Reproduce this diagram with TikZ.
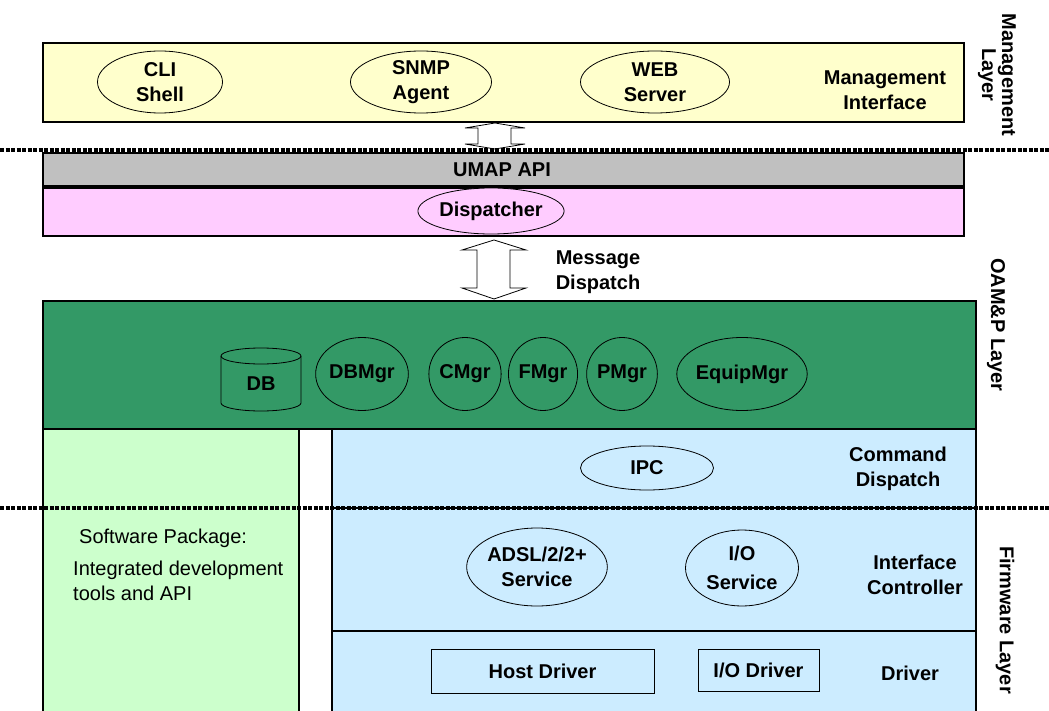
\documentclass[tikz,border=0pt]{standalone}
\usepackage{fontspec}
\setmainfont{Liberation Sans}
\usetikzlibrary{shapes.geometric}
\definecolor{mgmtyellow}{HTML}{FFFFCC}
\definecolor{apigray}{HTML}{C0C0C0}
\definecolor{disppink}{HTML}{FFCCFF}
\definecolor{oamgreen}{HTML}{339966}
\definecolor{swgreen}{HTML}{CCFFCC}
\definecolor{fwblue}{HTML}{CCECFF}
\begin{document}
\begin{tikzpicture}[x=1pt,y=-1pt,
  layerbox/.style={draw=black, line width=1.8pt, rectangle, inner sep=0pt, anchor=north west},
  ell/.style={ellipse, draw=black, line width=0.8pt, inner sep=0pt, align=center, font=\bfseries\fontsize{20}{25}\selectfont},
  lbl/.style={align=center, font=\bfseries\fontsize{20}{25}\selectfont, inner sep=0pt},
  sidelbl/.style={align=center, font=\bfseries\fontsize{20}{20}\selectfont, inner sep=0pt, rotate=-90},
  drvbox/.style={rectangle, draw=black, line width=1pt, inner sep=0pt, font=\bfseries\fontsize{20}{25}\selectfont},
  sep/.style={draw=black, line width=3.2pt, dash pattern=on 4pt off 1.5pt},
  blockarrow/.style={draw=black, fill=white, line width=0.8pt, line join=miter}
]
\clip (0,0) rectangle (1049,711);
\fill[white] (0,0) rectangle (1049,711);

% layer boxes
\node[layerbox, fill=mgmtyellow, minimum width=921pt, minimum height=79pt] (mgmt) at (42,42) {};
\node[layerbox, fill=apigray, minimum width=921pt, minimum height=33pt] (umap) at (42,152) {};
\node[layerbox, fill=disppink, minimum width=921pt, minimum height=48pt] (dispbox) at (42,187) {};
\node[layerbox, fill=oamgreen, minimum width=933pt, minimum height=128pt] (oam) at (42,300) {};
\node[layerbox, fill=swgreen, minimum width=256pt, minimum height=300pt] (sw) at (42,428) {};
\node[layerbox, fill=fwblue, minimum width=644pt, minimum height=79pt] (cmd) at (331,428) {};
\node[layerbox, fill=fwblue, minimum width=644pt, minimum height=123pt] (iface) at (331,507) {};
\node[layerbox, fill=fwblue, minimum width=644pt, minimum height=100pt] (drv) at (331,630) {};

% management layer
\node[ell, minimum width=125pt, minimum height=62pt] (cli) at (160,82) {CLI\\Shell};
\node[ell, minimum width=141pt, minimum height=62pt] (snmp) at (421,82) {SNMP\\Agent};
\node[ell, minimum width=149pt, minimum height=62pt] (web) at (655,82) {WEB\\Server};
\node[lbl] (mgmtif) at (885,90) {Management\\Interface};

% UMAP / dispatcher
\node[lbl] (umaptxt) at (502,170) {UMAP API};
\node[ell, fill=disppink, minimum width=142pt, minimum height=46pt] (dispatcher) at (491,211) {Dispatcher};

% block arrows
\draw[blockarrow] (495,123) -- (525,128) -- (511,128) -- (511,144) -- (525,144) -- (495,149)
  -- (465,144) -- (478,144) -- (478,128) -- (465,128) -- cycle;
\draw[blockarrow] (494,240) -- (526,250) -- (510,250) -- (510,288) -- (526,288) -- (494,299)
  -- (462,288) -- (477,288) -- (477,250) -- (462,250) -- cycle;
\node[lbl] (msgdisp) at (598,272) {Message\\Dispatch};

% OAM&P
\draw[line width=0.8pt] (221,356) -- (221,403) arc[start angle=180, end angle=0, x radius=40, y radius=8]
  -- (301,356);
\draw[line width=0.8pt] (261,356) ellipse[x radius=40, y radius=8];
\node[lbl] (db) at (261,384) {DB};
\node[ell, minimum width=82pt, minimum height=73pt] (dbmgr) at (362,374) {DBMgr};
\node[ell, minimum width=66pt, minimum height=73pt] (cmgr) at (465,374) {CMgr};
\node[ell, minimum width=67pt, minimum height=73pt] (fmgr) at (543,374) {FMgr};
\node[ell, minimum width=70pt, minimum height=73pt] (pmgr) at (622,374) {PMgr};
\node[ell, minimum width=112pt, minimum height=73pt] (equip) at (742,374) {EquipMgr};

% command dispatch
\node[ell, minimum width=133pt, minimum height=44pt] (ipc) at (647,468) {IPC};
\node[lbl] (cmdtxt) at (898,469) {Command\\Dispatch};

% interface controller
\node[ell, minimum width=123pt, minimum height=78pt] (adsl) at (537,567) {ADSL/2/2+\\Service};
\node[ell, minimum width=113pt, minimum height=76pt, font=\bfseries\fontsize{20}{29}\selectfont] (ioserv) at (742,568) {I/O\\Service};
\node[lbl] (ifctl) at (915,575) {Interface\\Controller};

% driver
\node[drvbox, minimum width=223pt, minimum height=44pt] (host) at (542.5,671) {Host Driver};
\node[drvbox, minimum width=121pt, minimum height=42pt] (iodrv) at (758.5,670) {I/O Driver};
\node[lbl] (drvtxt) at (910,673) {Driver};

% software package
\node[anchor=west, inner sep=0pt, font=\fontsize{20}{25}\selectfont] (swpkg) at (79,538) {Software Package:};
\node[anchor=north west, inner sep=0pt, align=left, font=\fontsize{20}{25}\selectfont] (swtools) at (73,561) {Integrated development\\tools and API};

% separators
\draw[sep] (0,150) -- (1049,150);
\draw[sep] (0,508) -- (1049,508);

% side labels
\node[sidelbl] (mgmtlayer) at (997,75) {Management\\Layer};
\node[sidelbl] (oamlayer) at (996,325) {OAM\&P Layer};
\node[sidelbl] (fwlayer) at (1005,620) {Firmware Layer};
\end{tikzpicture}
\end{document}
